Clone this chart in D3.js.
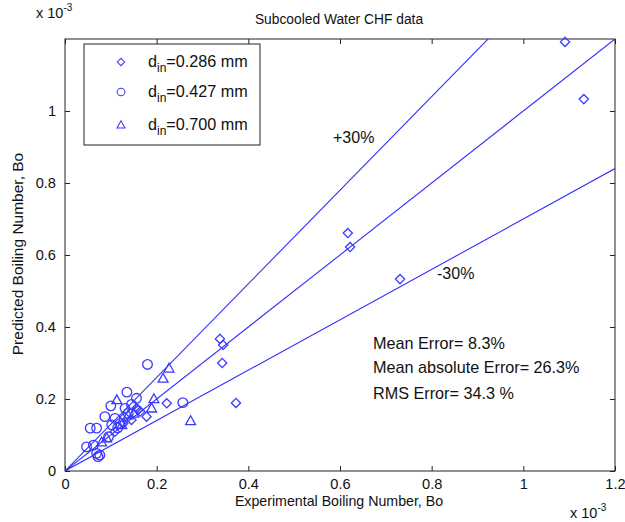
<!DOCTYPE html>
<html lang="en">
<head>
<meta charset="utf-8">
<title>Subcooled Water CHF data</title>
<script src="https://d3js.org/d3.v7.min.js"></script>
<style>
  body { margin: 0; background: #fff; }
  text { font-family: "Liberation Sans", Arial, sans-serif; fill: #111; }
  .frame { fill: none; stroke: #222; stroke-width: 1; }
  .refline { fill: none; stroke: #3030ff; stroke-width: 1.1; }
  .mk { fill: none; stroke: #3a3aff; stroke-width: 1.3; }
</style>
</head>
<body>
<script>
// values in units of 1e-3 (as shown on the axes)
var xTicks = [0, 0.2, 0.4, 0.6, 0.8, 1, 1.2];
var yTicks = [0, 0.2, 0.4, 0.6, 0.8, 1];

// d_in = 0.286 mm (diamonds)
var d286 = [
  [1.091, 1.192], [1.132, 1.033], [0.617, 0.661], [0.622, 0.622], [0.731, 0.533],
  [0.338, 0.367], [0.345, 0.350], [0.343, 0.300], [0.373, 0.189], [0.222, 0.188],
  [0.178, 0.151], [0.164, 0.165], [0.156, 0.174], [0.145, 0.142], [0.127, 0.132],
  [0.109, 0.109], [0.130, 0.150], [0.160, 0.170]
];
// d_in = 0.427 mm (circles)
var d427 = [
  [0.180, 0.296], [0.135, 0.219], [0.156, 0.202], [0.100, 0.181], [0.131, 0.174],
  [0.138, 0.160], [0.087, 0.151], [0.109, 0.146], [0.102, 0.128], [0.095, 0.095],
  [0.055, 0.119], [0.069, 0.119], [0.047, 0.067], [0.062, 0.072], [0.069, 0.049],
  [0.076, 0.044], [0.072, 0.040], [0.257, 0.190], [0.120, 0.132], [0.115, 0.120],
  [0.145, 0.185]
];
// d_in = 0.700 mm (triangles)
var d700 = [
  [0.227, 0.285], [0.214, 0.257], [0.113, 0.197], [0.194, 0.200], [0.189, 0.174],
  [0.274, 0.139], [0.091, 0.091], [0.124, 0.128], [0.138, 0.155], [0.150, 0.160],
  [0.080, 0.080]
];

var legendLabels = ["=0.286 mm", "=0.427 mm", "=0.700 mm"];
var bandFactors = [1.3, 1.0, 0.7];
var statLines = ["Mean Error= 8.3%", "Mean absolute Error= 26.3%", "RMS Error= 34.3 %"];

var w = 625, h = 522;
// plot box (note: "top" is taken by window.top, so use own names)
var pl = 65, pr = 615, pt = 39, pb = 471;

var svg = d3.select("body").append("svg")
  .attr("width", w).attr("height", h);

var x = d3.scaleLinear().domain([0, 1.2]).range([pl, pr]);
var y = d3.scaleLinear().domain([0, 1.2]).range([pb, pt]);

svg.append("defs").append("clipPath").attr("id", "plot")
  .append("rect").attr("x", pl).attr("y", pt)
  .attr("width", pr - pl).attr("height", pb - pt);

// axes, ticks pointing inward on all four sides
svg.append("g").attr("transform", "translate(0," + pb + ")")
  .call(d3.axisBottom(x).tickValues(xTicks).tickSizeInner(-5).tickSizeOuter(0)
    .tickPadding(8).tickFormat(d3.format("")));
svg.append("g").attr("transform", "translate(" + pl + ",0)")
  .call(d3.axisLeft(y).tickValues(yTicks).tickSizeInner(-5).tickSizeOuter(0)
    .tickPadding(9).tickFormat(d3.format("")));
svg.append("g").attr("transform", "translate(0," + pt + ")")
  .call(d3.axisTop(x).tickValues(xTicks).tickSizeInner(-5).tickSizeOuter(0).tickFormat(""));
svg.append("g").attr("transform", "translate(" + pr + ",0)")
  .call(d3.axisRight(y).tickValues(yTicks).tickSizeInner(-5).tickSizeOuter(0).tickFormat(""));

svg.selectAll(".domain").remove();
svg.selectAll(".tick line").attr("stroke", "#222");
svg.selectAll(".tick text").attr("font-size", 14.6)
  .attr("font-family", "Liberation Sans, Arial, sans-serif").attr("fill", "#111");

svg.append("rect").attr("class", "frame")
  .attr("x", pl).attr("y", pt).attr("width", pr - pl).attr("height", pb - pt);

// reference lines y = k*x
var line = d3.line().x(function(d) { return x(d[0]); }).y(function(d) { return y(d[1]); });
svg.append("g").attr("clip-path", "url(#plot)")
  .selectAll("path").data(bandFactors).join("path")
  .attr("class", "refline")
  .attr("d", function(k) { return line([[0, 0], [1.2, 1.2 * k]]); });

// markers
var diamond = function(s) { return "M0," + (-s) + "L" + s + ",0L0," + s + "L" + (-s) + ",0Z"; };
var triangle = function(s) { return "M0," + (-s) + "L" + (s * 0.95) + "," + (s * 0.7) + "L" + (-s * 0.95) + "," + (s * 0.7) + "Z"; };

var shapes = [
  { data: d286, draw: function(g) { g.append("path").attr("class", "mk").attr("d", diamond(4.6)); } },
  { data: d427, draw: function(g) { g.append("circle").attr("class", "mk").attr("r", 4.8); } },
  { data: d700, draw: function(g) { g.append("path").attr("class", "mk").attr("d", triangle(5.2)); } }
];

shapes.forEach(function(s) {
  svg.append("g").selectAll("g").data(s.data).join("g")
    .attr("transform", function(d) { return "translate(" + x(d[0]) + "," + y(d[1]) + ")"; })
    .each(function() { s.draw(d3.select(this)); });
});

// labels
svg.append("text").attr("x", 339).attr("y", 24).attr("text-anchor", "middle")
  .attr("font-size", 13.8).text("Subcooled Water CHF data");
svg.append("text").attr("x", 339).attr("y", 506).attr("text-anchor", "middle")
  .attr("font-size", 14.2).text("Experimental Boiling Number, Bo");
svg.append("text").attr("transform", "translate(23,254) rotate(-90)")
  .attr("text-anchor", "middle").attr("font-size", 15.5).text("Predicted Boiling Number, Bo");

function exponent(px, py) {
  var t = svg.append("text").attr("x", px).attr("y", py).attr("font-size", 14.5);
  t.append("tspan").text("x 10");
  t.append("tspan").attr("dy", -7).attr("font-size", 10).text("-3");
}
exponent(36, 18);
exponent(570, 518);

svg.append("text").attr("x", 333).attr("y", 143).attr("font-size", 16).text("+30%");
svg.append("text").attr("x", 437).attr("y", 279).attr("font-size", 16).text("-30%");

svg.append("g").selectAll("text").data(statLines).join("text")
  .attr("x", 373).attr("y", function(d, i) { return 349 + i * 24 + (i == 2 ? 2 : 0); })
  .attr("font-size", 16.2).text(function(d) { return d; });

// legend
var lg = svg.append("g");
lg.append("rect").attr("x", 84).attr("y", 44).attr("width", 176).attr("height", 101)
  .attr("fill", "#fff").attr("stroke", "#222");
var rows = [62, 92, 125];
shapes.forEach(function(s, i) {
  var g = lg.append("g").attr("transform", "translate(121," + rows[i] + ")");
  s.draw(g);
  g.selectAll(".mk").attr("transform", "scale(0.8)");
  var t = lg.append("text").attr("x", 148).attr("y", rows[i] + 5).attr("font-size", 16.2);
  t.append("tspan").text("d");
  t.append("tspan").attr("dy", 5).attr("font-size", 12).text("in");
  t.append("tspan").attr("dy", -5).text(legendLabels[i]);
});
</script>
</body>
</html>
